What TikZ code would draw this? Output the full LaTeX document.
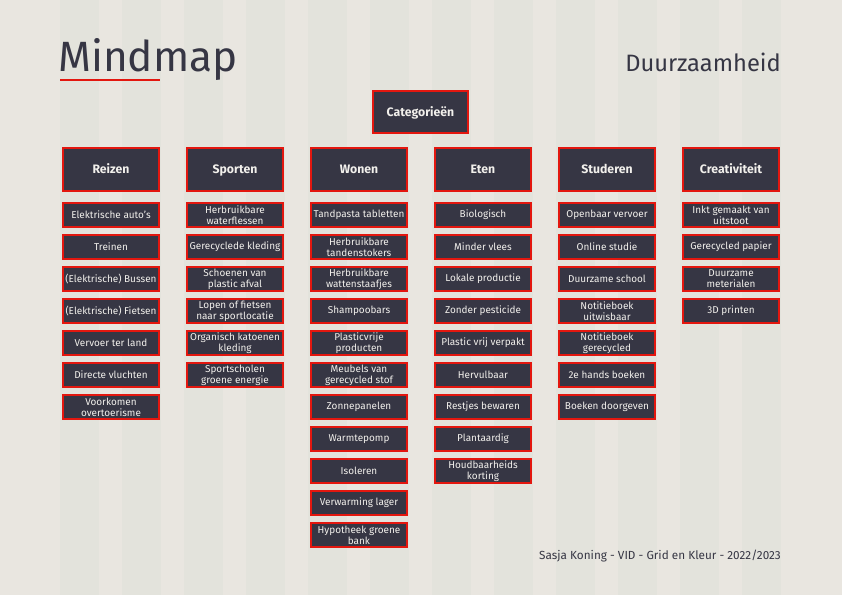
\documentclass[tikz,border=0pt]{standalone}
\usepackage{fontspec}
\setmainfont{Fira Sans}
\usetikzlibrary{positioning,calc}
\definecolor{paper}{HTML}{E9E6E0}
\definecolor{gridband}{HTML}{E3E3DC}
\definecolor{boxdark}{HTML}{363644}
\definecolor{boxred}{HTML}{E3170F}
\definecolor{boxtext}{HTML}{F2F0EC}
\tikzset{
  mapitem/.style={draw=boxred,line width=2bp,fill=boxdark,text=boxtext,minimum width=96bp,minimum height=24bp,inner sep=1bp,align=center,font=\fontsize{10}{10.8}\selectfont},
  maphead/.style={mapitem,minimum height=43bp,text height=8.8bp,text depth=0bp,font=\fontsize{12.3}{14}\selectfont\bfseries},
  mapnote/.style={inner sep=0pt,text=boxdark}
}

\begin{document}
\begin{tikzpicture}[x=1bp,y=-1bp]
  % paper with the 12 column grid
  \fill[paper] (0,0) rectangle (842,595);
  \foreach \c in {0,...,11}
    \fill[gridband] ({60+62*\c},0) rectangle ({99+62*\c},595);
  % heading
  \node[mapnote,anchor=base west,font=\fontsize{42.5}{50}\selectfont] (title) at (58,72) {Mindmap};
  \draw[boxred,line width=2bp] ([xshift=2bp,yshift=-8bp]title.base west) -- ++(100,0);
  \node[mapnote,anchor=base east,font=\fontsize{23.8}{28}\selectfont] (theme) at (781,72) {Duurzaamheid};
  \node[mapnote,anchor=base east,font=\fontsize{11.8}{14}\selectfont] (credits) at (781,559) {Sasja Koning - VID - Grid en Kleur - 2022/2023};
  % categories
  \node[maphead,minimum width=95bp,minimum height=42bp] (categorieen) at (420.5,112) {Categorieën};
  \node[maphead] (reizen) at (111,169.5) {Reizen};
  \node[maphead,right=26bp of reizen] (sporten) {Sporten};
  \node[maphead,right=26bp of sporten] (wonen) {Wonen};
  \node[maphead,right=26bp of wonen] (eten) {Eten};
  \node[maphead,right=26bp of eten] (studeren) {Studeren};
  \node[maphead,right=26bp of studeren] (creativiteit) {Creativiteit};
  % items per category
  \foreach \t [count=\i] in {Elektrische auto’s,Treinen,(Elektrische) Bussen,(Elektrische) Fietsen,Vervoer ter land,Directe vluchten,Voorkomen\\overtoerisme}
    \node[mapitem] (reizen\i) at ($(reizen)+(0,{32*\i+13.5})$) {\t};
  \foreach \t [count=\i] in {Herbruikbare\\waterflessen,Gerecyclede kleding,Schoenen van\\plastic afval,Lopen of fietsen\\naar sportlocatie,Organisch katoenen\\kleding,Sportscholen\\groene energie}
    \node[mapitem] (sporten\i) at ($(sporten)+(0,{32*\i+13.5})$) {\t};
  \foreach \t [count=\i] in {Tandpasta tabletten,Herbruikbare\\tandenstokers,Herbruikbare\\wattenstaafjes,Shampoobars,Plasticvrije\\producten,Meubels van\\gerecycled stof,Zonnepanelen,Warmtepomp,Isoleren,Verwarming lager,Hypotheek groene\\bank}
    \node[mapitem] (wonen\i) at ($(wonen)+(0,{32*\i+13.5})$) {\t};
  \foreach \t [count=\i] in {Biologisch,Minder vlees,Lokale productie,Zonder pesticide,Plastic vrij verpakt,Hervulbaar,Restjes bewaren,Plantaardig,Houdbaarheids\\korting}
    \node[mapitem] (eten\i) at ($(eten)+(0,{32*\i+13.5})$) {\t};
  \foreach \t [count=\i] in {Openbaar vervoer,Online studie,Duurzame school,Notitieboek\\uitwisbaar,Notitieboek\\gerecycled,2e hands boeken,Boeken doorgeven}
    \node[mapitem] (studeren\i) at ($(studeren)+(0,{32*\i+13.5})$) {\t};
  \foreach \t [count=\i] in {Inkt gemaakt van\\uitstoot,Gerecycled papier,Duurzame\\meterialen,3D printen}
    \node[mapitem] (creativiteit\i) at ($(creativiteit)+(0,{32*\i+13.5})$) {\t};
\end{tikzpicture}
\end{document}
